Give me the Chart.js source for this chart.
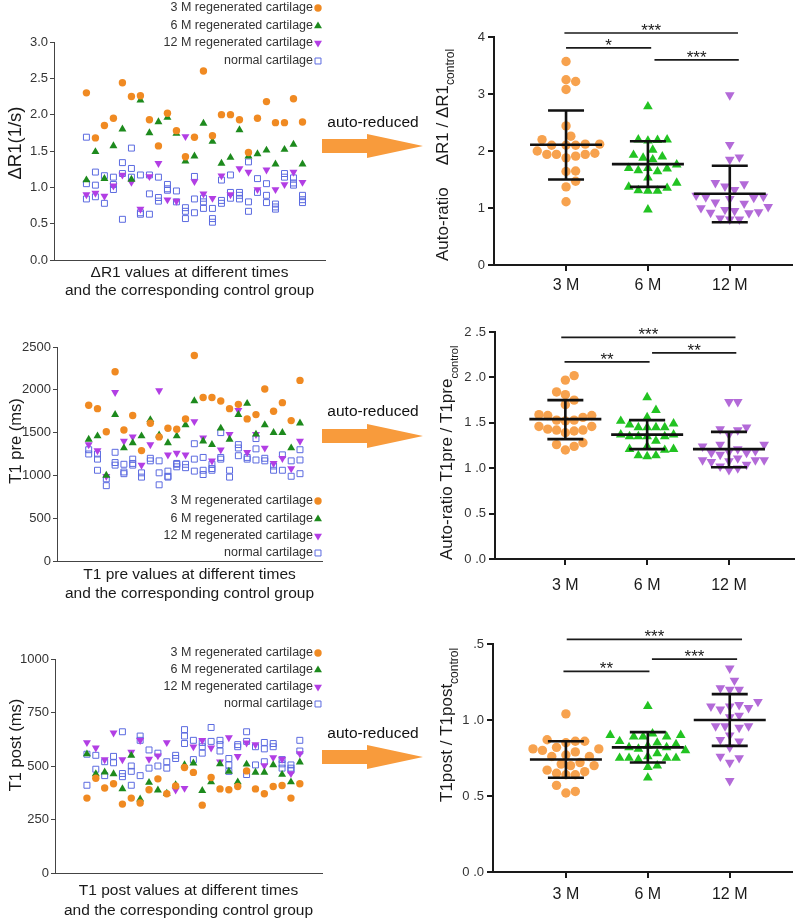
<!DOCTYPE html>
<html>
<head>
<meta charset="utf-8">
<script src="https://cdn.jsdelivr.net/npm/chart.js@4.4.0/dist/chart.umd.min.js"></script>
<style>
  body { margin: 0; background: #fff; width: 800px; height: 922px; position: relative; overflow: hidden; font-family: "Liberation Sans", Arial, sans-serif; }
  canvas { position: absolute; }
  .lab { position: absolute; left: 323px; width: 100px; text-align: center; font-size: 15.5px; line-height: 18px; color: #111; z-index: 2; }
  svg.arrow { position: absolute; left: 320px; z-index: 2; }
</style>
</head>
<body>
<canvas id="c1" width="400" height="300" style="left:0;top:0"></canvas>
<canvas id="c2" width="400" height="300" style="left:400px;top:0"></canvas>
<canvas id="c3" width="400" height="310" style="left:0;top:300px"></canvas>
<canvas id="c4" width="400" height="310" style="left:400px;top:300px"></canvas>
<canvas id="c5" width="400" height="312" style="left:0;top:610px"></canvas>
<canvas id="c6" width="400" height="312" style="left:400px;top:610px"></canvas>

<div class="lab" style="top:113px">auto-reduced</div>
<svg class="arrow" style="top:133px" width="110" height="26"><polygon points="2,6 47,6 47,1 103,13 47,25 47,20 2,20" fill="#f89b3c"/></svg>
<div class="lab" style="top:402px">auto-reduced</div>
<svg class="arrow" style="top:423px" width="110" height="26"><polygon points="2,6 47,6 47,1 103,13 47,25 47,20 2,20" fill="#f89b3c"/></svg>
<div class="lab" style="top:724px">auto-reduced</div>
<svg class="arrow" style="top:744px" width="110" height="26"><polygon points="2,6 47,6 47,1 103,13 47,25 47,20 2,20" fill="#f89b3c"/></svg>

<script>
const FONT = "'Liberation Sans', Arial, sans-serif";
Chart.defaults.font.family = FONT;
Chart.defaults.color = '#222';

// ---- left panels: raw values, one point per sample index ----
const seriesLabels = ['3 M regenerated cartilage', '6 M regenerated cartilage', '12 M regenerated cartilage', 'normal cartilage'];

const dr1_3M = [2.30, 1.68, 1.85, 1.95, 2.44, 2.25, 2.26, 1.93, 1.57, 2.02, 1.78, 1.42, 1.69, 2.60, 1.71, 2.00, 2.00, 1.93, 1.48, 1.95, 2.18, 1.89, 1.89, 2.22, 1.90];
const dr1_6M = [1.10, 1.49, 1.12, 1.57, 1.80, 1.11, 2.20, 1.75, 1.90, 1.96, 1.74, 1.36, 1.43, 1.88, 1.63, 1.33, 1.41, 1.79, 1.43, 1.46, 1.51, 1.32, 1.52, 1.59, 1.32];
const dr1_12M = [0.90, 0.92, 0.88, 1.02, 1.17, 1.07, 0.70, 1.15, 1.33, 0.83, 0.81, 1.70, 1.08, 0.91, 0.85, 1.16, 0.90, 1.26, 1.21, 0.97, 1.24, 0.97, 1.04, 1.21, 1.07];
const dr1_normal = [[1.69, 1.05, 0.84], [1.21, 1.03, 0.87], [1.16, 0.78], [1.14, 1.04, 0.97], [1.34, 1.19, 0.56], [1.54, 1.26, 1.14], [1.17, 0.65, 0.63], [1.17, 0.91, 0.63], [1.14, 0.86, 0.81], [1.04, 0.98, 0.96], [0.95, 0.80], [0.72, 0.67, 0.57], [1.15, 0.84, 0.65], [0.85, 0.80, 0.71], [0.71, 0.57, 0.52], [1.10, 0.82, 0.78], [1.17, 0.93, 0.85], [0.93, 0.89, 0.84], [1.35, 0.80, 0.67], [1.12, 0.93], [1.05, 0.89, 0.79], [0.77, 0.73, 0.70], [1.19, 1.14], [1.13, 1.06, 1.03], [0.89, 0.83, 0.79]];
const dr1Ticks = ['0.0', '0.5', '1.0', '1.5', '2.0', '2.5', '3.0'];

const pre_3M = [1820, 1780, 1510, 2210, 1530, 1700, 1290, 1610, 1450, 1550, 1540, 1660, 2400, 1910, 1910, 1870, 1780, 1830, 1660, 1710, 2010, 1750, 1850, 1640, 2110];
const pre_6M = [1420, 1460, 1000, 1710, 1320, 1380, 1460, 1650, 1470, 1380, 1460, 1590, 1870, 1400, 1360, 1550, 1420, 1710, 1840, 1480, 1590, 1500, 1500, 1320, 1610];
const pre_12M = [1360, 1290, 990, 1970, 1400, 1450, 1120, 1360, 1990, 1240, 1260, 1240, 1630, 1440, 1170, 1300, 1480, 1760, 1270, 1480, 1320, 1140, 1200, 1080, 1400];
const pre_normal = [[1300, 1250], [1250, 1190, 1060], [960, 880], [1270, 1150, 1120], [1130, 1040, 1020], [1190, 1140, 1120], [1030, 980], [1200, 1170], [1170, 1030, 890], [1050, 990, 980], [1100, 1140, 1130], [1130, 1090], [1370, 1190, 1050], [1210, 1060, 1010], [1130, 1080, 1060], [1500, 1210, 1190], [1060, 980], [1360, 1320, 1230], [1210, 1190], [1430, 1310, 1180], [1200, 1170], [1110, 1060], [1240, 1060], [1170, 990], [1300, 1180, 1020]];
const preTicks = ['0', '500', '1000', '1500', '2000', '2500'];

const post_3M = [350, 443, 397, 417, 322, 350, 327, 389, 440, 370, 407, 493, 470, 317, 446, 393, 389, 404, 477, 393, 370, 404, 409, 350, 417];
const post_6M = [556, 463, 471, 463, 393, 549, 345, 423, 387, 372, 412, 505, 513, 385, 425, 510, 475, 425, 508, 470, 470, 505, 460, 425, 518];
const post_12M = [610, 585, 530, 655, 530, 565, 620, 532, 548, 610, 388, 396, 590, 620, 585, 520, 633, 545, 608, 600, 502, 540, 532, 465, 558];
const post_normal = [[410, 555], [550, 485], [520, 455], [545, 515], [660, 465, 450], [500, 475, 410], [640, 620, 455], [575, 490], [560, 500], [520, 490], [550, 535], [670, 640, 605], [620, 530], [610, 590, 560], [680, 615], [620, 600, 570], [535, 505, 475], [600, 590], [660, 615, 460], [590, 505], [610, 580, 520], [605, 590], [530, 510, 490], [505, 490, 480], [620, 570]];
const postTicks = ['0', '250', '500', '750', '1000'];

// ---- right panels: auto-ratios per group ----
const groups = ['3 M', '6 M', '12 M'];

const rDR1_3M = [3.57, 3.25, 3.22, 3.08, 2.44, 2.26, 2.20, 2.12, 2.12, 2.10, 2.10, 2.10, 2.00, 1.96, 1.94, 1.94, 1.94, 1.91, 1.88, 1.65, 1.64, 1.47, 1.37, 1.11];
const rDR1_6M = [2.78, 2.20, 2.20, 2.19, 2.18, 2.02, 1.93, 1.90, 1.88, 1.85, 1.76, 1.70, 1.70, 1.69, 1.66, 1.64, 1.53, 1.44, 1.37, 1.35, 1.31, 1.30, 1.30, 0.97];
const rDR1_12M = [2.98, 2.11, 1.89, 1.85, 1.44, 1.42, 1.38, 1.32, 1.22, 1.20, 1.19, 1.18, 1.16, 1.10, 1.08, 1.02, 1.00, 0.97, 0.95, 0.93, 0.92, 0.91, 0.82, 0.80, 0.80];
const rDR1_mean = [2.11, 1.77, 1.25];
const rDR1_hi = [2.71, 2.17, 1.74];
const rDR1_lo = [1.50, 1.37, 0.75];
const rDR1Ticks = ['0', '1', '2', '3', '4'];
const rDR1Sig = [[0.98, 3.1, 4.07, '***'], [1.0, 2.04, 3.81, '*'], [2.08, 3.11, 3.60, '***']];

const rPre_3M = [2.02, 1.97, 1.84, 1.81, 1.75, 1.70, 1.59, 1.58, 1.58, 1.56, 1.53, 1.53, 1.52, 1.46, 1.46, 1.43, 1.42, 1.42, 1.41, 1.39, 1.28, 1.26, 1.24, 1.20];
const rPre_6M = [1.78, 1.64, 1.56, 1.52, 1.49, 1.48, 1.45, 1.45, 1.45, 1.45, 1.37, 1.37, 1.35, 1.35, 1.35, 1.35, 1.30, 1.24, 1.21, 1.21, 1.20, 1.14, 1.14, 1.13];
const rPre_12M = [1.73, 1.73, 1.45, 1.43, 1.42, 1.37, 1.26, 1.26, 1.24, 1.21, 1.19, 1.18, 1.17, 1.17, 1.15, 1.11, 1.09, 1.09, 1.09, 1.08, 1.07, 1.04, 1.02, 1.00, 0.98];
const rPre_mean = [1.54, 1.37, 1.21];
const rPre_hi = [1.75, 1.53, 1.40];
const rPre_lo = [1.32, 1.21, 1.01];
const rPreTicks = ['0 .0', '0 .5', '1 .0', '1 .5', '2 .0', '2 .5'];
const rPreSig = [[0.95, 3.08, 2.44, '***'], [0.99, 2.03, 2.17, '**'], [2.06, 3.09, 2.27, '**']];

const rPost_3M = [1.04, 0.87, 0.86, 0.86, 0.85, 0.82, 0.81, 0.81, 0.80, 0.79, 0.77, 0.76, 0.76, 0.72, 0.71, 0.70, 0.70, 0.67, 0.66, 0.65, 0.64, 0.64, 0.57, 0.53, 0.52];
const rPost_6M = [1.09, 0.91, 0.90, 0.90, 0.89, 0.89, 0.89, 0.86, 0.85, 0.84, 0.83, 0.82, 0.82, 0.81, 0.80, 0.78, 0.76, 0.75, 0.75, 0.75, 0.75, 0.74, 0.70, 0.69, 0.62];
const rPost_12M = [1.34, 1.26, 1.21, 1.20, 1.20, 1.12, 1.10, 1.09, 1.09, 1.08, 1.07, 1.03, 1.02, 0.96, 0.96, 0.96, 0.95, 0.90, 0.87, 0.86, 0.82, 0.76, 0.75, 0.72, 0.60];
const rPost_mean = [0.74, 0.82, 1.00];
const rPost_hi = [0.86, 0.92, 1.17];
const rPost_lo = [0.62, 0.72, 0.83];
const rPostTicks = ['0 .0', '0 .5', '1 .0', ' .5'];
const rPostSig = [[1.01, 3.15, 1.53, '***'], [0.97, 2.02, 1.32, '**'], [2.05, 3.09, 1.40, '***']];

// ---- drawing helpers ----
function marker(ctx, style, r, rot, x, y, fill, stroke, bw) {
  ctx.beginPath();
  if (style === 'circle') {
    ctx.arc(x, y, r, 0, Math.PI * 2);
  } else if (style === 'triangle') {
    const s = rot ? -1 : 1;
    ctx.moveTo(x, y - s * r);
    ctx.lineTo(x + r * 0.866, y + s * r / 2);
    ctx.lineTo(x - r * 0.866, y + s * r / 2);
    ctx.closePath();
  } else {
    const h = r * Math.SQRT1_2;
    ctx.rect(x - h, y - h, 2 * h, 2 * h);
  }
  ctx.fillStyle = fill;
  ctx.fill();
  if (bw) { ctx.lineWidth = bw; ctx.strokeStyle = stroke; ctx.stroke(); }
}

function sideTitle(ctx, t) {
  ctx.save();
  ctx.translate(t.x, t.y);
  ctx.rotate(-Math.PI / 2);
  ctx.fillStyle = '#1a1a1a';
  ctx.textBaseline = 'middle';
  ctx.textAlign = 'left';
  let total = 0;
  t.segs.forEach(s => {
    ctx.font = s.size + 'px ' + FONT;
    s.w = ctx.measureText(s.text).width;
    total += (s.gap || 0) + s.w;
  });
  let cur = t.center ? -total / 2 : 0;
  t.segs.forEach(s => {
    cur += s.gap || 0;
    ctx.font = s.size + 'px ' + FONT;
    ctx.fillText(s.text, cur, s.sub || 0);
    cur += s.w;
  });
  ctx.restore();
}

function decor(cfg) {
  return {
    id: 'decor',
    afterDatasetsDraw(chart) {
      const ctx = chart.ctx, xs = chart.scales.x, ys = chart.scales.y;
      ctx.save();
      if (cfg.mean) {
        ctx.strokeStyle = '#111';
        ctx.lineWidth = 2.6;
        cfg.mean.forEach((m, i) => {
          const cx = xs.getPixelForValue(i + 1);
          const ym = ys.getPixelForValue(m), yh = ys.getPixelForValue(cfg.hi[i]), yl = ys.getPixelForValue(cfg.lo[i]);
          ctx.beginPath();
          ctx.moveTo(cx - 36, ym); ctx.lineTo(cx + 36, ym);
          ctx.moveTo(cx - 18, yh); ctx.lineTo(cx + 18, yh);
          ctx.moveTo(cx - 18, yl); ctx.lineTo(cx + 18, yl);
          ctx.moveTo(cx, yh); ctx.lineTo(cx, yl);
          ctx.stroke();
        });
      }
      if (cfg.sig) {
        ctx.lineWidth = 1.7;
        ctx.strokeStyle = '#1a1a1a';
        ctx.fillStyle = '#1a1a1a';
        ctx.font = '17px ' + FONT;
        ctx.textAlign = 'center';
        ctx.textBaseline = 'alphabetic';
        cfg.sig.forEach(b => {
          const x1 = xs.getPixelForValue(b[0]), x2 = xs.getPixelForValue(b[1]), y = ys.getPixelForValue(b[2]);
          ctx.beginPath();
          ctx.moveTo(x1, y); ctx.lineTo(x2, y);
          ctx.stroke();
          ctx.fillText(b[3], (x1 + x2) / 2, y + 3);
        });
      }
      ctx.restore();
    },
    afterDraw(chart) {
      const ctx = chart.ctx;
      if (cfg.yTitle) sideTitle(ctx, cfg.yTitle);
      if (cfg.legend) {
        const L = cfg.legend;
        ctx.save();
        ctx.font = L.size + 'px ' + FONT;
        ctx.textAlign = 'right';
        ctx.textBaseline = 'middle';
        chart.data.datasets.forEach((ds, i) => {
          ctx.fillStyle = '#333';
          ctx.fillText(ds.label, L.xr, L.ys[i]);
          marker(ctx, ds.pointStyle, ds.pointRadius, ds.pointRotation, L.xm, L.ys[i],
            ds.pointBackgroundColor, ds.pointBorderColor, ds.pointBorderWidth);
        });
        ctx.restore();
      }
    }
  };
}

const LEFT_COL = ['#f08a22', '#1d8a1d', '#b23ee4', '#5b6ae0'];
const RIGHT_COL = ['#f7a24e', '#22c322', '#b36ad8'];

function leftChart(id, o) {
  const idx = v => v.map((y, i) => ({ x: i + 1, y }));
  const datasets = [
    { label: seriesLabels[0], data: idx(o.s[0]), pointStyle: 'circle', pointRadius: 3.7, pointRotation: 0, pointBackgroundColor: LEFT_COL[0], pointBorderColor: LEFT_COL[0], pointBorderWidth: 0 },
    { label: seriesLabels[1], data: idx(o.s[1]), pointStyle: 'triangle', pointRadius: 4.6, pointRotation: 0, pointBackgroundColor: LEFT_COL[1], pointBorderColor: LEFT_COL[1], pointBorderWidth: 0 },
    { label: seriesLabels[2], data: idx(o.s[2]), pointStyle: 'triangle', pointRadius: 4.6, pointRotation: 180, pointBackgroundColor: LEFT_COL[2], pointBorderColor: LEFT_COL[2], pointBorderWidth: 0 },
    { label: seriesLabels[3], data: o.s[3].flatMap((arr, i) => arr.map(y => ({ x: i + 1, y }))), pointStyle: 'rect', pointRadius: 4.2, pointRotation: 0, pointBackgroundColor: 'rgba(255,255,255,0)', pointBorderColor: LEFT_COL[3], pointBorderWidth: 1 }
  ];
  return new Chart(document.getElementById(id), {
    type: 'scatter',
    data: { datasets },
    options: {
      responsive: false, animation: false, events: [],
      layout: { padding: { left: 0, top: o.top, right: o.right, bottom: 0 } },
      plugins: { legend: { display: false }, tooltip: { enabled: false } },
      scales: {
        x: {
          type: 'linear', min: -2.6, max: 27.5,
          afterFit: s => { s.height = o.xh; },
          ticks: { display: false },
          grid: { display: false },
          border: { display: true, color: '#444', width: 1 },
          title: { display: true, text: o.xTitle, color: '#1a1a1a', font: { size: 15.5, lineHeight: o.lh + 'px' }, padding: { top: 0, bottom: o.pb } }
        },
        y: {
          min: 0, max: o.ymax,
          afterFit: s => { s.width = o.yw; },
          ticks: { stepSize: o.step, callback: (v, i) => o.ticks[i], font: { size: 13 }, color: '#333', padding: 2 },
          grid: { drawOnChartArea: false, drawTicks: true, tickLength: 4, color: '#444' },
          border: { display: true, color: '#444', width: 1 }
        }
      }
    },
    plugins: [decor({ yTitle: o.yTitle, legend: o.legend })]
  });
}

function swarm(chart, diam) {
  const xs = chart.scales.x, ys = chart.scales.y;
  chart.data.datasets.forEach((ds, g) => {
    const cx = xs.getPixelForValue(g + 1);
    const placed = [];
    const pts = ds.data.map(p => ({ x: p.x, y: p.y }));
    const order = pts.map((p, i) => i).sort((a, b) => pts[a].y - pts[b].y);
    order.forEach(i => {
      const py = ys.getPixelForValue(pts[i].y);
      let off = 0;
      for (let k = 0; k < 80; k++) {
        const c = (k % 2 ? 1 : -1) * Math.ceil(k / 2) * diam * 0.5;
        if (placed.every(q => (q[0] - c) ** 2 + (q[1] - py) ** 2 >= diam * diam)) { off = c; break; }
      }
      placed.push([off, py]);
      pts[i].x = xs.getValueForPixel(cx + off);
    });
    ds.data = pts;
  });
  chart.update('none');
}

function rightChart(id, o) {
  const styles = [['circle', 4.7, 0], ['triangle', 5.6, 0], ['triangle', 5.6, 180]];
  const datasets = o.g.map((vals, i) => ({
    label: groups[i],
    data: vals.map(y => ({ x: i + 1, y })),
    pointStyle: styles[i][0], pointRadius: styles[i][1], pointRotation: styles[i][2],
    pointBackgroundColor: RIGHT_COL[i], pointBorderWidth: 0
  }));
  const chart = new Chart(document.getElementById(id), {
    type: 'scatter',
    data: { datasets },
    options: {
      responsive: false, animation: false, events: [],
      layout: { padding: { left: 0, top: o.top, right: o.right, bottom: 0 } },
      plugins: { legend: { display: false }, tooltip: { enabled: false } },
      scales: {
        x: {
          type: 'linear', min: o.xmin, max: o.xmax,
          afterFit: s => { s.height = o.xh; },
          afterBuildTicks: s => { s.ticks = groups.map((g, i) => ({ value: i + 1 })); },
          ticks: { callback: v => groups[Math.round(v) - 1], font: { size: 16 }, color: '#1a1a1a', padding: o.xpad, maxRotation: 0 },
          grid: { drawOnChartArea: false, drawTicks: true, tickLength: 6, color: '#1a1a1a', lineWidth: 2 },
          border: { display: true, color: '#1a1a1a', width: 2 }
        },
        y: {
          min: 0, max: o.ymax,
          afterFit: s => { s.width = o.yw; },
          ticks: { stepSize: o.step, callback: (v, i) => o.ticks[i], font: { size: 13 }, color: '#333', padding: 3 },
          grid: { drawOnChartArea: false, drawTicks: true, tickLength: 6, color: '#1a1a1a', lineWidth: 2 },
          border: { display: true, color: '#1a1a1a', width: 2 }
        }
      }
    },
    plugins: [decor({ mean: o.mean, hi: o.hi, lo: o.lo, sig: o.sig, yTitle: o.yTitle })]
  });
  swarm(chart, o.diam);
  return chart;
}

// ---- panels ----
leftChart('c1', {
  s: [dr1_3M, dr1_6M, dr1_12M, dr1_normal], ymax: 3, step: 0.5, ticks: dr1Ticks,
  top: 42, right: 75, yw: 54, xh: 40, lh: 18, pb: 0,
  xTitle: ['ΔR1 values at different times', 'and the corresponding control group'],
  yTitle: { x: 16, y: 143, center: true, segs: [{ text: 'ΔR1(1/s)', size: 18.5 }] },
  legend: { xr: 313, xm: 318, size: 12.5, ys: [8, 26, 43, 61] }
});

leftChart('c3', {
  s: [pre_3M, pre_6M, pre_12M, pre_normal], ymax: 2500, step: 500, ticks: preTicks,
  top: 47, right: 78, yw: 57, xh: 49, lh: 19, pb: 7,
  xTitle: ['T1 pre values at different times', 'and the corresponding control group'],
  yTitle: { x: 16, y: 141, center: true, segs: [{ text: 'T1 pre (ms)', size: 16.5 }] },
  legend: { xr: 313, xm: 318, size: 12.5, ys: [201, 219, 236, 253] }
});

leftChart('c5', {
  s: [post_3M, post_6M, post_12M, post_normal], ymax: 1000, step: 250, ticks: postTicks,
  top: 49, right: 78, yw: 55, xh: 49, lh: 20, pb: 1,
  xTitle: ['T1 post values at different times', 'and the corresponding control group'],
  yTitle: { x: 16, y: 135, center: true, segs: [{ text: 'T1 post (ms)', size: 16.5 }] },
  legend: { xr: 313, xm: 318, size: 12.5, ys: [43, 60, 77, 94] }
});

rightChart('c2', {
  g: [rDR1_3M, rDR1_6M, rDR1_12M], mean: rDR1_mean, hi: rDR1_hi, lo: rDR1_lo, sig: rDR1Sig,
  ymax: 4, step: 1, ticks: rDR1Ticks, xmin: 0.12, xmax: 3.76, diam: 9.6,
  top: 37, right: 8, yw: 94, xh: 35, xpad: 5,
  yTitle: { x: 43, y: 261, segs: [{ text: 'Auto-ratio', size: 17 }, { text: 'ΔR1 / ΔR1', size: 17, gap: 22 }, { text: 'control', size: 12, sub: 8 }] }
});

rightChart('c4', {
  g: [rPre_3M, rPre_6M, rPre_12M], mean: rPre_mean, hi: rPre_hi, lo: rPre_lo, sig: rPreSig,
  ymax: 2.5, step: 0.5, ticks: rPreTicks, xmin: 0.14, xmax: 3.8, diam: 8.8,
  top: 32, right: 3, yw: 95, xh: 51, xpad: 11,
  yTitle: { x: 47, y: 260, segs: [{ text: 'Auto-ratio T1pre / T1pre', size: 17 }, { text: 'control', size: 11, sub: 8 }] }
});

rightChart('c6', {
  g: [rPost_3M, rPost_6M, rPost_12M], mean: rPost_mean, hi: rPost_hi, lo: rPost_lo, sig: rPostSig,
  ymax: 1.5, step: 0.5, ticks: rPostTicks, xmin: 0.11, xmax: 3.76, diam: 9.4,
  top: 34, right: 8, yw: 93, xh: 50, xpad: 7,
  yTitle: { x: 47, y: 192, segs: [{ text: 'T1post / T1post', size: 17 }, { text: 'control', size: 12, sub: 8 }] }
});
</script>
</body>
</html>
